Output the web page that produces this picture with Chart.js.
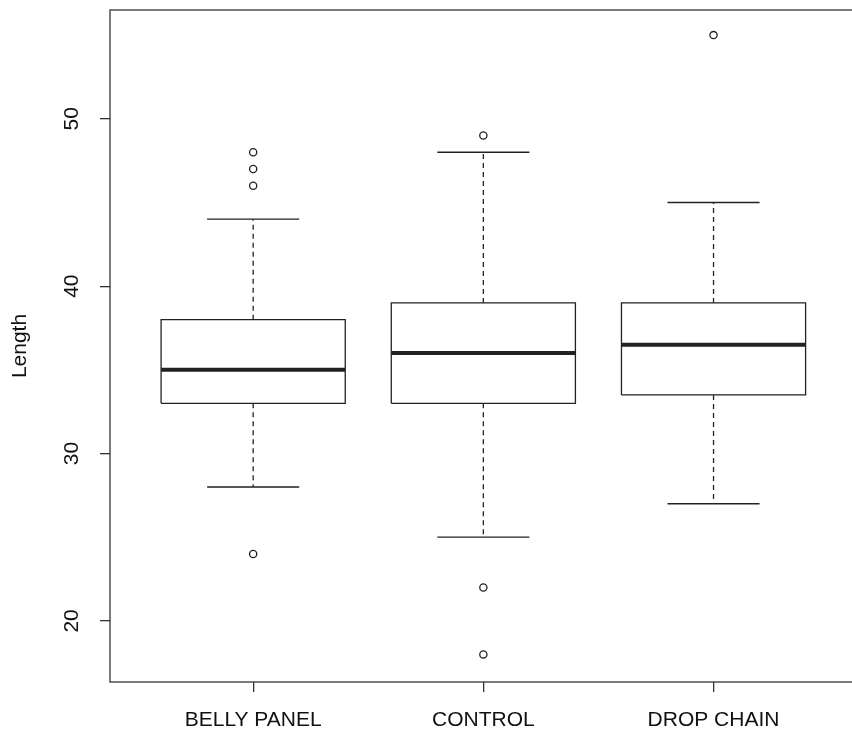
<!DOCTYPE html>
<html>
<head>
<meta charset="utf-8">
<script src="https://cdn.jsdelivr.net/npm/chart.js@4.4.1/dist/chart.umd.min.js"></script>
<style>
  html, body { margin: 0; padding: 0; background: #fff; overflow: hidden; }
  #wrap { width: 862px; height: 733px; }
</style>
</head>
<body>
<div id="wrap"><canvas id="boxChart"></canvas></div>
<script>
// boxplot summary per group
const groups = ["BELLY PANEL", "CONTROL", "DROP CHAIN"];
const lowerWhisker = [28, 25, 27];
const lowerQuartile = [33, 33, 33.5];
const medians = [35, 36, 36.5];
const upperQuartile = [38, 39, 39];
const upperWhisker = [44, 48, 45];
const outliers = [[24, 46, 47, 48], [18, 22, 49], [55]];
const yTicks = [20, 30, 40, 50];

const boxHalf = 0.4;   // box half width in x units
const capHalf = 0.2;   // whisker cap half width

const lineColor = "#222";
const textFont = { family: "'Liberation Sans', Arial, sans-serif", size: 21 };

//building segment lists, null points break the line
const boxPts = [], medPts = [], whiskPts = [], capPts = [], outPts = [];
groups.forEach((g, i) => {
  const c = i + 1;
  boxPts.push(
    { x: c - boxHalf, y: lowerQuartile[i] }, { x: c + boxHalf, y: lowerQuartile[i] },
    { x: c + boxHalf, y: upperQuartile[i] }, { x: c - boxHalf, y: upperQuartile[i] },
    { x: c - boxHalf, y: lowerQuartile[i] }, { x: c, y: null }
  );
  medPts.push({ x: c - boxHalf, y: medians[i] }, { x: c + boxHalf, y: medians[i] }, { x: c, y: null });
  whiskPts.push(
    { x: c, y: upperQuartile[i] }, { x: c, y: upperWhisker[i] }, { x: c, y: null },
    { x: c, y: lowerQuartile[i] }, { x: c, y: lowerWhisker[i] }, { x: c, y: null }
  );
  capPts.push(
    { x: c - capHalf, y: upperWhisker[i] }, { x: c + capHalf, y: upperWhisker[i] }, { x: c, y: null },
    { x: c - capHalf, y: lowerWhisker[i] }, { x: c + capHalf, y: lowerWhisker[i] }, { x: c, y: null }
  );
  outliers[i].forEach(v => outPts.push({ x: c, y: v }));
});

const segLine = (data, width, dash) => ({
  data,
  showLine: true,
  borderColor: lineColor,
  borderWidth: width,
  borderDash: dash || [],
  pointRadius: 0,
  tension: 0,
  fill: false,
  spanGaps: false
});

//plot frame like R's box()
const framePlugin = {
  id: "frame",
  afterDraw(chart) {
    const { ctx, chartArea: a } = chart;
    ctx.save();
    ctx.strokeStyle = "#333";
    ctx.lineWidth = 1.3;
    ctx.strokeRect(a.left, a.top, a.right - a.left, a.bottom - a.top);
    ctx.restore();
  }
};

new Chart(document.getElementById("boxChart"), {
  type: "scatter",
  data: {
    datasets: [
      segLine(medPts, 4),
      segLine(boxPts, 1.3),
      segLine(capPts, 1.3),
      segLine(whiskPts, 1.3, [5, 4]),
      {
        data: outPts,
        showLine: false,
        pointStyle: "circle",
        pointRadius: 3.6,
        pointBackgroundColor: "#fff",
        pointBorderColor: lineColor,
        pointBorderWidth: 1.3
      }
    ]
  },
  options: {
    responsive: true,
    maintainAspectRatio: false,
    animation: false,
    layout: { padding: { top: 10, right: 2, left: 0, bottom: 0 } },
    plugins: {
      legend: { display: false },
      tooltip: { enabled: false }
    },
    scales: {
      x: {
        type: "linear",
        min: 0.378,
        max: 3.622,
        afterBuildTicks: s => { s.ticks = groups.map((g, i) => ({ value: i + 1 })); },
        afterFit: s => { s.height = 51; s.paddingLeft = 0; s.paddingRight = 0; },
        border: { display: false },
        grid: { drawOnChartArea: false, drawTicks: true, tickLength: 10, color: "#333", lineWidth: 1.3 },
        ticks: {
          color: "#111",
          font: textFont,
          padding: 16,
          maxRotation: 0,
          autoSkip: false,
          callback: v => groups[v - 1] || ""
        }
      },
      y: {
        min: 16.35,
        max: 56.5,
        afterBuildTicks: s => { s.ticks = yTicks.map(v => ({ value: v })); },
        afterFit: s => { s.width = 110; s.paddingTop = 0; s.paddingBottom = 0; },
        border: { display: false },
        grid: { drawOnChartArea: false, drawTicks: true, tickLength: 10, color: "#333", lineWidth: 1.3 },
        ticks: {
          color: "#111",
          font: textFont,
          padding: 16,
          minRotation: 90,
          maxRotation: 90,
          crossAlign: "center"
        },
        title: {
          display: true,
          text: "Length",
          color: "#111",
          font: textFont,
          padding: { top: 8, bottom: 0 }
        }
      }
    }
  },
  plugins: [framePlugin]
});
</script>
</body>
</html>
